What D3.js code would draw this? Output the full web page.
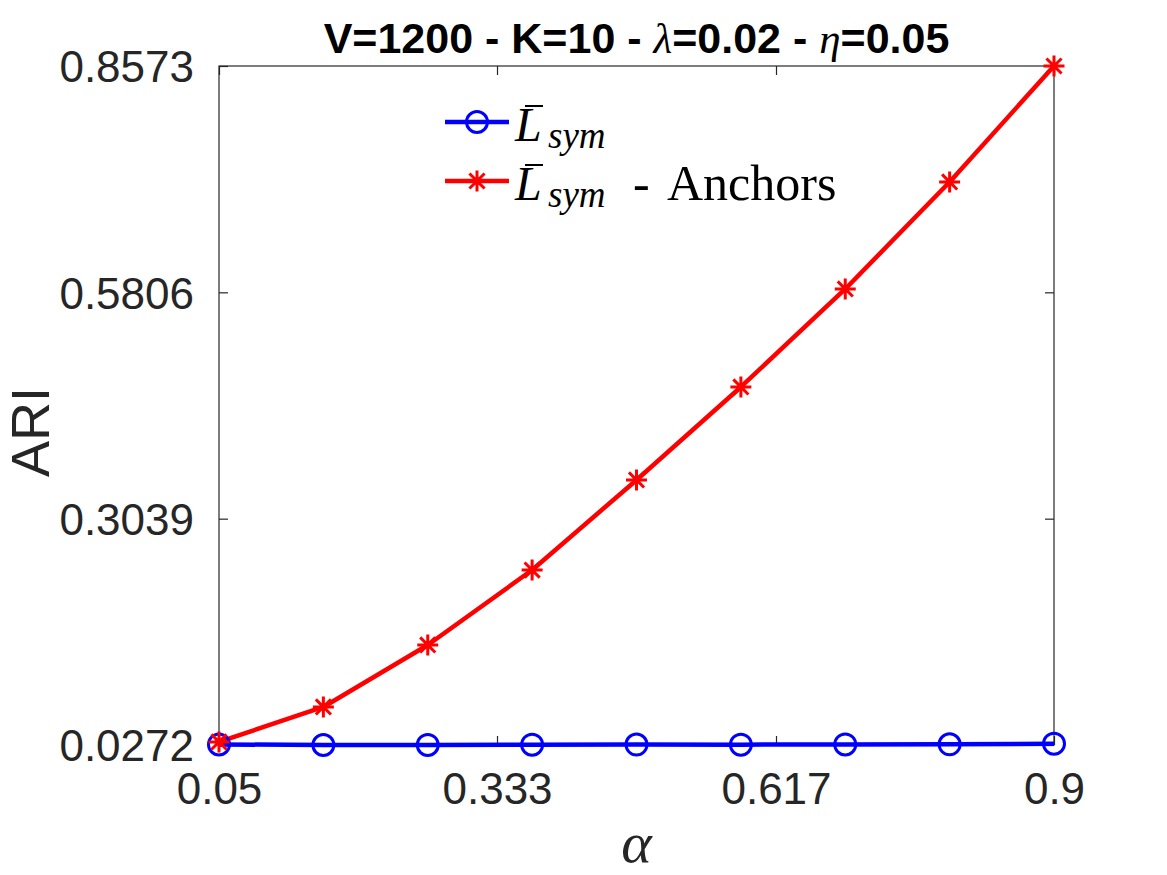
<!DOCTYPE html>
<html>
<head>
<meta charset="utf-8">
<script src="https://cdn.jsdelivr.net/npm/d3@7"></script>
<style>
    body { margin: 0; background: #fff; }
    svg { display: block; }
    .tick-label { font-family: "Liberation Sans", Arial, sans-serif; font-size: 44px; fill: #262626; }
    .legend-text { font-family: "Liberation Serif", serif; fill: #000; }
</style>
</head>
<body>
<svg id="chart"></svg>
<script>
var w = 1167,
    h = 875;

var margin = {
    top: 66,
    right: 113,
    bottom: 130,
    left: 219
},
    width = w - margin.left - margin.right,
    height = h - margin.top - margin.bottom;

// data
var alphas = [0.05, 0.15625, 0.2625, 0.36875, 0.475, 0.58125, 0.6875, 0.79375, 0.9];
var lsym = [0.0279, 0.0272, 0.0273, 0.0276, 0.0277, 0.0276, 0.0279, 0.0280, 0.0288];
var lsymAnchors = [0.0309, 0.0737, 0.1495, 0.2411, 0.3512, 0.4649, 0.5847, 0.7155, 0.8573];

var xTicks = [0.05, 0.333, 0.617, 0.9];
var xTickLabels = ["0.05", "0.333", "0.617", "0.9"];
var yTicks = [0.0272, 0.3039, 0.5806, 0.8573];
var yTickLabels = ["0.0272", "0.3039", "0.5806", "0.8573"];

var seriesNames = ["blue", "red"];

var x = d3.scaleLinear()
    .domain([0.05, 0.9])
    .range([0, width]);

var y = d3.scaleLinear()
    .domain([0.0272, 0.8573])
    .range([height, 0]);

var svg = d3.select("#chart")
    .attr("width", w)
    .attr("height", h);

var g = svg.append("g")
    .attr("transform", "translate(" + margin.left + "," + margin.top + ")");

var TICK = 9;

// box + inner ticks on all four sides
g.append("rect")
    .attr("x", 0)
    .attr("y", 0)
    .attr("width", width)
    .attr("height", height)
    .attr("fill", "none")
    .attr("stroke", "#262626")
    .attr("stroke-width", 1.2);

var xb = g.append("g")
    .attr("class", "axis x-axis")
    .attr("transform", "translate(0," + height + ")")
    .call(d3.axisBottom(x).tickValues(xTicks).tickSize(-TICK).tickSizeOuter(0)
        .tickPadding(TICK + 18)
        .tickFormat(function(d, i) { return xTickLabels[i]; }));

g.append("g")
    .attr("class", "axis")
    .call(d3.axisTop(x).tickValues(xTicks).tickSize(-TICK).tickSizeOuter(0).tickFormat(""));

var yl = g.append("g")
    .attr("class", "axis y-axis")
    .call(d3.axisLeft(y).tickValues(yTicks).tickSize(-TICK).tickSizeOuter(0)
        .tickPadding(TICK + 16)
        .tickFormat(function(d, i) { return yTickLabels[i]; }));

g.append("g")
    .attr("class", "axis")
    .attr("transform", "translate(" + width + ",0)")
    .call(d3.axisRight(y).tickValues(yTicks).tickSize(-TICK).tickSizeOuter(0).tickFormat(""));

g.selectAll(".axis .domain").remove();
g.selectAll(".axis line").attr("stroke", "#262626").attr("stroke-width", 1.2);
g.selectAll(".axis text")
    .attr("class", "tick-label")
    .attr("font-family", null)
    .attr("font-size", null)
    .attr("fill", null);
yl.selectAll("text").attr("dy", "0.36em");
xb.selectAll("text").attr("dy", "0.72em");

// lines
var line = d3.line()
    .x(function(d, i) { return x(alphas[i]); })
    .y(function(d) { return y(d); });

g.append("path")
    .datum(lsymAnchors)
    .attr("fill", "none")
    .attr("stroke", "#ff0000")
    .attr("stroke-width", 4.5)
    .attr("stroke-linejoin", "round")
    .attr("d", line);

g.append("path")
    .datum(lsym)
    .attr("fill", "none")
    .attr("stroke", "#0000ff")
    .attr("stroke-width", 4.5)
    .attr("stroke-linejoin", "round")
    .attr("d", line);

// star marker path (plus + cross)
function starPath(s) {
    var d = s * 0.72;
    return "M" + (-s) + ",0L" + s + ",0" +
        "M0," + (-s) + "L0," + s +
        "M" + (-d) + "," + (-d) + "L" + d + "," + d +
        "M" + (-d) + "," + d + "L" + d + "," + (-d);
}

g.selectAll(".circle-dot")
    .data(lsym)
    .enter()
    .append("circle")
    .attr("class", "circle-dot")
    .attr("cx", function(d, i) { return x(alphas[i]); })
    .attr("cy", function(d) { return y(d); })
    .attr("r", 10.5)
    .attr("fill", "none")
    .attr("stroke", "#0000ff")
    .attr("stroke-width", 3);

g.selectAll(".star-dot")
    .data(lsymAnchors)
    .enter()
    .append("path")
    .attr("class", "star-dot")
    .attr("transform", function(d, i) { return "translate(" + x(alphas[i]) + "," + y(d) + ")"; })
    .attr("d", starPath(10.5))
    .attr("fill", "none")
    .attr("stroke", "#ff0000")
    .attr("stroke-width", 3);

// title
var title = svg.append("text")
    .attr("x", margin.left + width / 2)
    .attr("y", 53)
    .attr("text-anchor", "middle")
    .attr("font-family", "'Liberation Sans', Arial, sans-serif")
    .attr("font-weight", "bold")
    .attr("font-size", 43)
    .attr("fill", "#000");
title.append("tspan").text("V=1200 - K=10 - ");
title.append("tspan").attr("font-family", "'Liberation Serif', serif").attr("font-style", "italic").attr("font-weight", "normal").text("λ");
title.append("tspan").text("=0.02 - ");
title.append("tspan").attr("font-family", "'Liberation Serif', serif").attr("font-style", "italic").attr("font-weight", "normal").text("η");
title.append("tspan").text("=0.05");

// axis labels
svg.append("text")
    .attr("transform", "translate(49,432) rotate(-90)")
    .attr("text-anchor", "middle")
    .attr("font-family", "'Liberation Sans', Arial, sans-serif")
    .attr("font-size", 54)
    .attr("fill", "#262626")
    .text("ARI");

svg.append("text")
    .attr("x", margin.left + width / 2)
    .attr("y", 862)
    .attr("text-anchor", "middle")
    .attr("font-family", "'Liberation Serif', serif")
    .attr("font-style", "italic")
    .attr("font-size", 58)
    .attr("fill", "#262626")
    .text("α");

// legend
var legendY = [122, 181];
var legendColor = ["#0000ff", "#ff0000"];

var legend = svg.selectAll(".legend-item")
    .data(seriesNames)
    .enter()
    .append("g")
    .attr("class", "legend-item")
    .attr("transform", function(d, i) { return "translate(445," + legendY[i] + ")"; });

legend.append("line")
    .attr("x1", 0)
    .attr("x2", 64)
    .attr("y1", 0)
    .attr("y2", 0)
    .attr("stroke", function(d, i) { return legendColor[i]; })
    .attr("stroke-width", 4.5);

legend.filter(function(d) { return d === "blue"; })
    .append("circle")
    .attr("cx", 32)
    .attr("cy", 0)
    .attr("r", 10.5)
    .attr("fill", "none")
    .attr("stroke", "#0000ff")
    .attr("stroke-width", 3);

legend.filter(function(d) { return d === "red"; })
    .append("path")
    .attr("transform", "translate(32,0)")
    .attr("d", starPath(10.5))
    .attr("fill", "none")
    .attr("stroke", "#ff0000")
    .attr("stroke-width", 3);

// L with bar, subscript sym
legend.append("line")
    .attr("x1", 80)
    .attr("x2", 98)
    .attr("y1", -16)
    .attr("y2", -16)
    .attr("stroke", "#000")
    .attr("stroke-width", 2);

var lt = legend.append("text")
    .attr("class", "legend-text")
    .attr("y", 19)
    .attr("font-size", 48);
lt.append("tspan").attr("x", 70).attr("font-style", "italic").text("L");
lt.append("tspan").attr("x", 103).attr("font-style", "italic").attr("font-size", 37).attr("dy", 7).text("sym");

var rest = legend.filter(function(d) { return d === "red"; })
    .append("text")
    .attr("class", "legend-text")
    .attr("y", 19)
    .attr("font-size", 50);
rest.append("tspan").attr("x", 188).text("-");
rest.append("tspan").attr("x", 222).text("Anchors");
</script>
</body>
</html>
